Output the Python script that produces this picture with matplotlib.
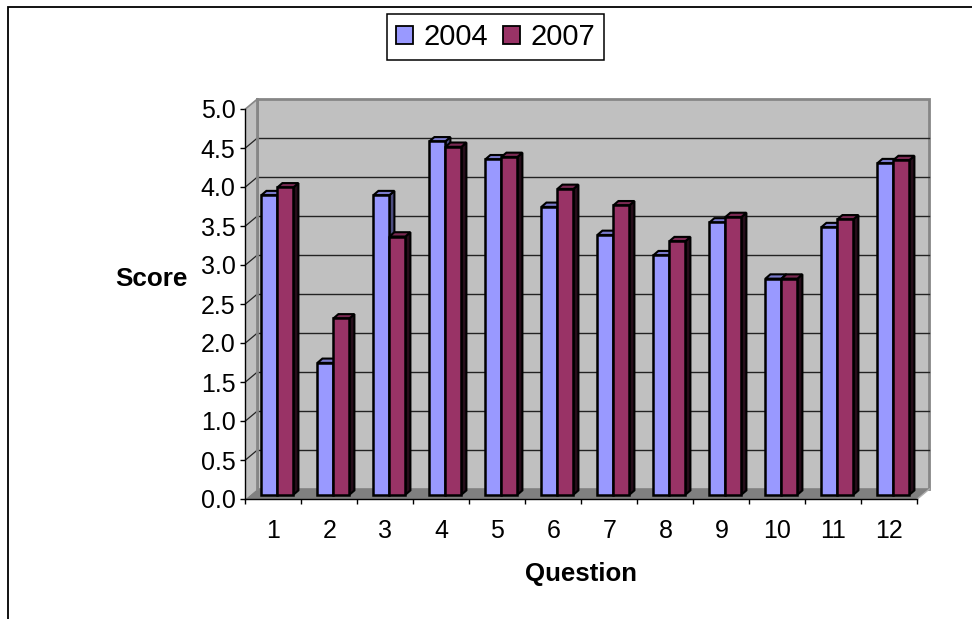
import matplotlib
matplotlib.use("Agg")
import matplotlib.pyplot as plt
from matplotlib.patches import Polygon, Patch
from matplotlib.lines import Line2D

plt.rcParams['font.family'] = ['Liberation Sans', 'DejaVu Sans']

questions = [1, 2, 3, 4, 5, 6, 7, 8, 9, 10, 11, 12]
scores_2004 = [3.84, 1.69, 3.84, 4.53, 4.30, 3.69, 3.33, 3.07, 3.49, 2.77, 3.43, 4.25]
scores_2007 = [3.94, 2.26, 3.31, 4.46, 4.33, 3.92, 3.71, 3.25, 3.56, 2.77, 3.53, 4.29]
y_ticks = [0.0, 0.5, 1.0, 1.5, 2.0, 2.5, 3.0, 3.5, 4.0, 4.5, 5.0]
series_names = ['2004', '2007']

W, H = 972, 619
fig = plt.figure(figsize=(W / 100, H / 100), dpi=100, facecolor='white')
L, R, T, B = 245.4, 917.4, 109.0, 499.0
ax = fig.add_axes([L / W, 1 - B / H, (R - L) / W, (B - T) / H], facecolor='none')
ax.set_xlim(0, 12)
ax.set_ylim(0, 5)

px = 12 / (R - L)
py = 5 / (B - T)
wall_dx, wall_dy = 12 * px, 10 * py
bar_dx, bar_dy = 5 * px, 4.3 * py
bar_w = 16 * px
bar_x0 = 16.0 * px
bar_base = 4.3 * py


def poly(pts, fc, ec='none', lw=0, z=1):
    ax.add_patch(Polygon(pts, closed=True, facecolor=fc, edgecolor=ec, linewidth=lw,
                         zorder=z, clip_on=False, joinstyle='miter'))


# walls and floor
poly([(wall_dx, wall_dy), (12 + wall_dx, wall_dy), (12 + wall_dx, 5 + wall_dy), (wall_dx, 5 + wall_dy)],
     '#C0C0C0', '#868686', 2.0, 1)
poly([(0, 0), (wall_dx, wall_dy), (wall_dx, 5 + wall_dy), (0, 5)], '#C0C0C0', 'none', 0, 1)
poly([(0, 0), (12, 0), (12 + wall_dx, wall_dy), (wall_dx, wall_dy)], '#808080', 'none', 0, 1.5)
ax.plot([0, wall_dx], [5, 5 + wall_dy], color='#868686', lw=1.2, zorder=1.6, clip_on=False)
ax.plot([12, 12 + wall_dx], [0, wall_dy], color='#B0B0B0', lw=1.0, zorder=1.6, clip_on=False)

# gridlines on back and side walls
for yv in y_ticks[1:-1]:
    ax.plot([wall_dx, 12 + wall_dx], [yv + wall_dy, yv + wall_dy], color='#222222', lw=1.0, zorder=2, clip_on=False)
    ax.plot([0, wall_dx], [yv, yv + wall_dy], color='#222222', lw=0.9, zorder=2, clip_on=False)
ax.plot([wall_dx, wall_dx], [wall_dy, 5 + wall_dy], color='#868686', lw=2.0, zorder=2.2, clip_on=False)


def shade(hex_color, f):
    r, g, b = matplotlib.colors.to_rgb(hex_color)
    return (r * f, g * f, b * f)


colors = ['#9999FF', '#993366']
for s, (vals, col) in enumerate(zip([scores_2004, scores_2007], colors)):
    for i, v in enumerate(vals):
        x0 = i + bar_x0 + s * bar_w
        x1 = x0 + bar_w
        top = bar_base + v
        z = 3 + i + s * 0.1
        side_f = 0.5 if s == 0 else 0.25
        poly([(x1, bar_base), (x1 + bar_dx, bar_base + bar_dy), (x1 + bar_dx, top + bar_dy), (x1, top)],
             shade(col, side_f), 'black', 1.5, z)
        poly([(x0, top), (x1, top), (x1 + bar_dx, top + bar_dy), (x0 + bar_dx, top + bar_dy)],
             shade(col, 0.8), 'black', 1.5, z)
        ax.bar(x0, v, width=bar_w, bottom=bar_base, align='edge', color=col, edgecolor='black',
               linewidth=1.8, zorder=z + 0.05, clip_on=False)

# axes
for s in ['top', 'right']:
    ax.spines[s].set_visible(False)
for s in ['left', 'bottom']:
    ax.spines[s].set_color('black')
    ax.spines[s].set_linewidth(1.0)
    ax.spines[s].set_zorder(30)
ax.set_yticks(y_ticks)
ax.set_yticklabels([f'{v:.1f}' for v in y_ticks])
ax.set_xticks(range(13))
ax.set_xticklabels([])
ax.set_xticks([q - 0.5 for q in questions], [str(q) for q in questions], minor=True)
ax.tick_params(axis='x', which='major', length=3.6, width=1.0, color='black')
ax.tick_params(axis='x', which='minor', length=0, labelsize=18, pad=14.5)
ax.tick_params(axis='y', which='major', length=3.6, width=1.0, labelsize=18, pad=3.5)

fig.text(187.5 / W, 1 - 279 / H, 'Score', ha='right', va='center', fontsize=18.8, fontweight='bold')
fig.text(581.5 / W, 1 - 574 / H, 'Question', ha='center', va='center', fontsize=18.6, fontweight='bold')

# chart frame (open right and bottom)
fig.add_artist(Line2D([7.5 / W, 7.5 / W, 1], [0, 1 - 7 / H, 1 - 7 / H], color='black', lw=1.3,
                      solid_joinstyle='miter'))

handles = [Patch(facecolor=c, edgecolor='black', linewidth=1.3, label=n) for c, n in zip(colors, series_names)]
leg = fig.legend(handles=handles, ncol=2, loc='center', bbox_to_anchor=(495.5 / W, 1 - 37 / H),
                 fontsize=21, frameon=True, fancybox=False, edgecolor='black', framealpha=1,
                 handlelength=0.58, handleheight=0.58, handletextpad=0.36, columnspacing=0.5,
                 borderpad=0.3, borderaxespad=0)
leg.get_frame().set_linewidth(1.1)

fig.savefig('out.png', dpi=100)
